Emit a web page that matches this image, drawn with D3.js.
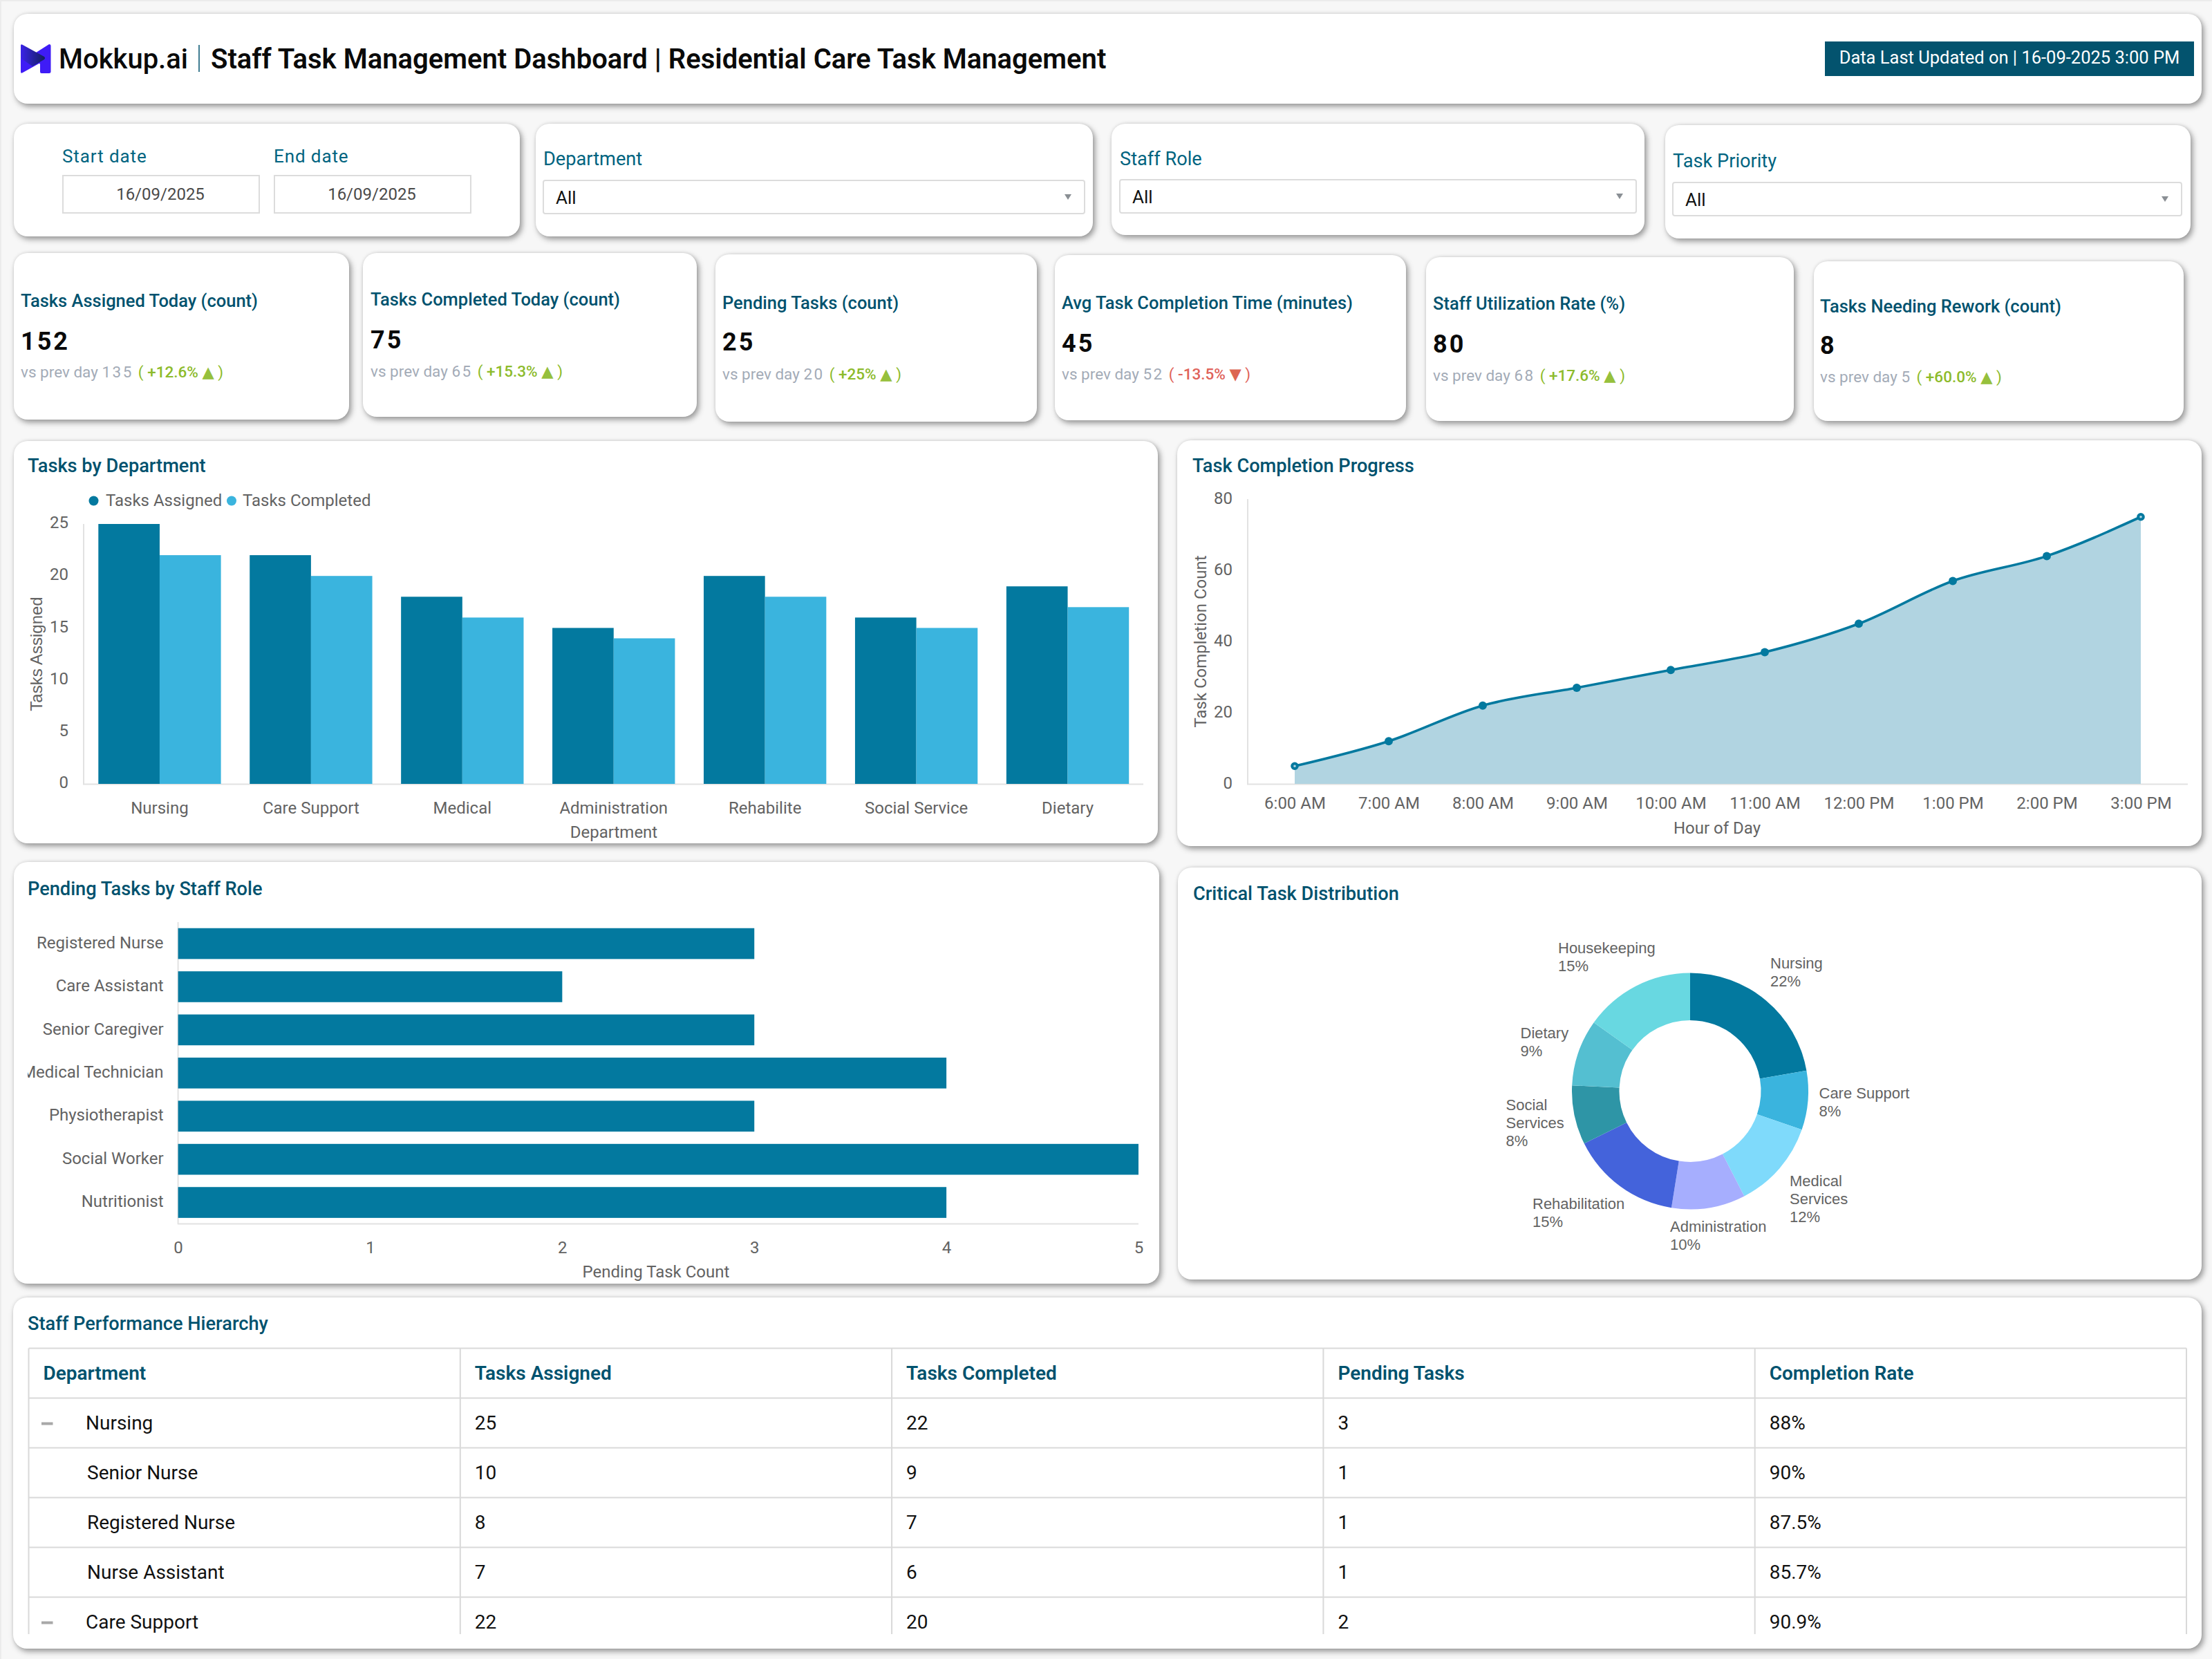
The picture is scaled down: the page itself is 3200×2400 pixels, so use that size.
<!DOCTYPE html>
<html><head><meta charset="utf-8">
<script src="https://cdnjs.cloudflare.com/ajax/libs/d3/7.8.5/d3.min.js"></script>
<style>
html,body{margin:0;padding:0;background:#f7f7f7;}
svg{display:block;font-family:Roboto,sans-serif;}
.card{fill:#fff;filter:drop-shadow(3px 4px 4px rgba(0,0,0,.38)) drop-shadow(0 -1px 2px rgba(0,0,0,.08));}
.tick text{font-family:Roboto,sans-serif;font-size:24px;fill:#636363;}
</style></head><body>
<div id="chart"></div>
<script>
// ---------- data ----------
const departments = ["Nursing","Care Support","Medical","Administration","Rehabilite","Social Service","Dietary"];
const tasksAssigned = [25,22,18,15,20,16,19];
const tasksCompleted = [22,20,16,14,18,15,17];
const hours = ["6:00 AM","7:00 AM","8:00 AM","9:00 AM","10:00 AM","11:00 AM","12:00 PM","1:00 PM","2:00 PM","3:00 PM"];
const completionCount = [5,12,22,27,32,37,45,57,64,75];
const staffRoles = ["Registered Nurse","Care Assistant","Senior Caregiver","Medical Technician","Physiotherapist","Social Worker","Nutritionist"];
const pendingByRole = [3,2,3,4,3,5,4];
const criticalNames = ["Nursing","Care Support","Medical Services","Administration","Rehabilitation","Social Services","Dietary","Housekeeping"];
const criticalShare = [22,8,12,10,15,8,9,15];
const kpiTitles = ["Tasks Assigned Today (count)","Tasks Completed Today (count)","Pending Tasks (count)","Avg Task Completion Time (minutes)","Staff Utilization Rate (%)","Tasks Needing Rework (count)"];
const kpiValues = ["152","75","25","45","80","8"];
const kpiPrev = ["135","65","20","52","68","5"];
const kpiDelta = ["+12.6%","+15.3%","+25%","-13.5%","+17.6%","+60.0%"];
const tableHeaders = ["Department","Tasks Assigned","Tasks Completed","Pending Tasks","Completion Rate"];
const tableNames = ["Nursing","Senior Nurse","Registered Nurse","Nurse Assistant","Care Support"];
const tableParent = [true,false,false,false,true];
const tableAssigned = [25,10,8,7,22];
const tableCompleted = [22,9,7,6,20];
const tablePending = [3,1,1,1,2];
const tableRate = ["88%","90%","87.5%","85.7%","90.9%"];

// ---------- setup ----------
const TEAL="#00526e", BAR="#03799F", BAR2="#3AB4DE", AXIS="#e2e2e2", GREY="#636363";
const svg=d3.select("#chart").append("svg").attr("width",3200).attr("height",2400).attr("viewBox","0 0 3200 2400");
svg.append("rect").attr("width",3200).attr("height",2400).attr("fill","#f7f7f7");
svg.append("rect").attr("width",3200).attr("height",2).attr("fill","#ececec");
svg.append("rect").attr("width",2).attr("height",2400).attr("fill","#ececec");

function card(x0,y0,x1,y1){svg.append("rect").attr("class","card").attr("x",x0).attr("y",y0).attr("width",x1-x0).attr("height",y1-y0).attr("rx",20);}
function txt(x,y,s,o={}){
  const t=(o.g||svg).append("text").attr("x",x).attr("y",y).attr("dy",".35em").text(s)
    .attr("font-size",o.size||24).attr("fill",o.fill||GREY).attr("font-weight",o.weight||400)
    .attr("font-family",o.family||"Roboto, sans-serif").attr("text-anchor",o.anchor||"start");
  if(o.spacing)t.attr("letter-spacing",o.spacing);
  return t;
}
function domainLine(x0,y0,x1,y1){svg.append("line").attr("x1",x0).attr("y1",y0).attr("x2",x1).attr("y2",y1).attr("stroke",AXIS).attr("stroke-width",2);}
function vtitle(x,y,s,family){svg.append("text").attr("transform",`translate(${x},${y}) rotate(-90)`).attr("dy",".35em").attr("text-anchor","middle").attr("font-size",24).attr("fill",GREY).attr("font-family",family||"Roboto, sans-serif").text(s);}
const titleOpts={size:27.2,weight:500,fill:TEAL};

// ---------- header ----------
card(20,20,3185,150);
const defs=svg.append("defs");
const lg=defs.append("linearGradient").attr("id","logoGrad").attr("x1","0").attr("x2","1").attr("y1","0").attr("y2","0");
lg.append("stop").attr("offset","0").attr("stop-color","#3a22e8");
lg.append("stop").attr("offset","1").attr("stop-color","#13205c");
svg.append("path").attr("d","M73.5 66Q73.5 64 71 64L49 78 58 93V104Q58 106 60 106H71Q73.5 106 73.5 104ZM30 84V104Q30 107 33 105L58 91 46 84Z").attr("fill","#3f1cf6");
svg.append("path").attr("d","M30 66Q30 63 33 65L64 82Q66 84 64 86L47 96 30 84Z").attr("fill","url(#logoGrad)");
txt(85,85,"Mokkup.ai",{size:40,weight:500,fill:"#0a0a0a"});
svg.append("line").attr("x1",288).attr("x2",288).attr("y1",65).attr("y2",104).attr("stroke",TEAL).attr("stroke-width",1.5);
txt(305,85,"Staff Task Management Dashboard | Residential Care Task Management",{size:40,weight:600,fill:"#0a0a0a"});
svg.append("rect").attr("x",2640).attr("y",60).attr("width",534).attr("height",50).attr("fill","#03536e");
txt(2907,83,"Data Last Updated on | 16-09-2025 3:00 PM",{size:25.5,fill:"#fff",anchor:"middle"});

// ---------- filters ----------
card(20,179,752,342); card(775,179,1581,342); card(1608,179,2379,340); card(2409,181,3169,345);
[[90,"Start date"],[396,"End date"]].forEach(([x,s])=>{
  txt(x,226,s,{size:26,fill:"#006480",spacing:0.9});
  svg.append("rect").attr("x",x+1).attr("y",254).attr("width",284).attr("height",54).attr("fill","#fff").attr("stroke","#dcdcdc").attr("stroke-width",2);
  txt(x+142,281,"16/09/2025",{size:24,fill:"#4a4a4a",anchor:"middle"});
});
[["Department",786,1569,229,261,"All"],["Staff Role",1620,2367,229,260,"All"],["Task Priority",2420,3156,232,264,"All"]].forEach(([s,x0,x1,ly,by,v])=>{
  txt(x0,ly,s,{size:27.2,fill:"#006480"});
  svg.append("rect").attr("x",x0).attr("y",by).attr("width",x1-x0).attr("height",48).attr("rx",3).attr("fill","#fff").attr("stroke","#dcdcdc").attr("stroke-width",2);
  txt(x0+18,by+25,v,{size:26,fill:"#111"});
  const ax=x1-24, ay=by+24;
  svg.append("path").attr("d",`M${ax-5} ${ay-4}H${ax+5}L${ax} ${ay+4}Z`).attr("fill","#8a8f94");
});

// ---------- KPI cards ----------
const kpiLayout=[
 {c:[20,366,505,607],x:30,t:435,v:493,s:538},
 {c:[525,366,1008,603],x:536,t:433,v:491,s:537},
 {c:[1035,368,1500,610],x:1045,t:438,v:494,s:541},
 {c:[1526,369,2034,608],x:1536,t:438,v:496,s:541},
 {c:[2063,372,2595,609],x:2073,t:439,v:497,s:543},
 {c:[2624,378,3159,609],x:2633,t:443,v:499,s:545}];
kpiTitles.forEach((title,i)=>{
  const L=kpiLayout[i]; card(...L.c);
  txt(L.x,L.t,title,{size:25.5,weight:500,fill:TEAL});
  txt(L.x,L.v,kpiValues[i],{size:36,weight:700,fill:"#0a0a0a",spacing:3});
  const down=kpiDelta[i][0]==="-", col=down?"#e0635a":"#8dbb2c";
  const t=txt(L.x,L.s,"",{size:22.5,fill:"#a3abb7"});
  t.append("tspan").text("vs prev day ");
  t.append("tspan").attr("letter-spacing",2.5).text(kpiPrev[i]);
  t.append("tspan").attr("fill",col).attr("dx",7).text("( ");
  t.append("tspan").attr("fill",col).attr("font-weight",500).text(kpiDelta[i]+" ");
  t.append("tspan").attr("fill",down?"#dd6652":"#96c03c").attr("font-family","DejaVu Sans").text(down?"▼":"▲");
  t.append("tspan").attr("fill",col).text(" )");
});

// ---------- Tasks by Department ----------
card(20,638,1675,1220);
txt(40,673,"Tasks by Department",titleOpts);
svg.append("circle").attr("cx",135.5).attr("cy",724.5).attr("r",7).attr("fill",BAR);
txt(153,724,"Tasks Assigned",{});
svg.append("circle").attr("cx",335).attr("cy",724.5).attr("r",7).attr("fill",BAR2);
txt(351,724,"Tasks Completed",{});
const x1=d3.scaleBand().domain(departments).range([121.5,1654]).paddingInner(.19).paddingOuter(.095);
const xSub=d3.scaleBand().domain([0,1]).range([0,x1.bandwidth()]);
const y1=d3.scaleLinear().domain([0,25]).range([1134,758]);
domainLine(121,758,121,1135); domainLine(120,1134.5,1654,1134.5);
[tasksAssigned,tasksCompleted].forEach((vals,k)=>{
  svg.append("g").selectAll("rect").data(vals).join("rect")
    .attr("x",(d,i)=>x1(departments[i])+xSub(k)).attr("width",xSub.bandwidth())
    .attr("y",d=>y1(d)).attr("height",d=>y1(0)-y1(d)).attr("fill",k?BAR2:BAR);
});
let a=svg.append("g").attr("transform","translate(0,1134)").call(d3.axisBottom(x1).tickSize(0).tickPadding(26)); a.select(".domain").remove();
a=svg.append("g").attr("transform","translate(121,-2)").call(d3.axisLeft(y1).ticks(5).tickSize(0).tickPadding(22)); a.select(".domain").remove();
vtitle(53,946,"Tasks Assigned","Liberation Sans");
txt(888,1204,"Department",{anchor:"middle"});

// ---------- Task Completion Progress ----------
card(1703,637,3185,1224);
txt(1725,673,"Task Completion Progress",titleOpts);
const x2=d3.scalePoint().domain(hours).range([1805,3165]).padding(.5);
const y2=d3.scaleLinear().domain([0,80]).range([1134,722]);
domainLine(1805,722,1805,1135); domainLine(1804,1134.5,3165,1134.5);
const pts=hours.map((h,i)=>[x2(h),completionCount[i]]);
const isEnd=i=>i===0||i===pts.length-1;
svg.append("path").datum(pts).attr("fill","#b1d4e1")
  .attr("d",d3.area().x(d=>d[0]).y0(y2(0)).y1(d=>y2(d[1])).curve(d3.curveMonotoneX));
svg.append("path").datum(pts).attr("fill","none").attr("stroke",BAR).attr("stroke-width",3.6)
  .attr("d",d3.line().x(d=>d[0]).y(d=>y2(d[1])).curve(d3.curveMonotoneX));
svg.append("g").selectAll("circle").data(pts).join("circle")
  .attr("cx",d=>d[0]).attr("cy",d=>y2(d[1])).attr("r",(d,i)=>isEnd(i)?3.8:6)
  .attr("fill",(d,i)=>isEnd(i)?"#b1d4e1":BAR).attr("stroke",BAR).attr("stroke-width",(d,i)=>isEnd(i)?4:0);
a=svg.append("g").attr("transform","translate(0,1134)").call(d3.axisBottom(x2).tickSize(0).tickPadding(19)); a.select(".domain").remove();
a=svg.append("g").attr("transform","translate(1805,-1)").call(d3.axisLeft(y2).ticks(4).tickSize(0).tickPadding(22)); a.select(".domain").remove();
vtitle(1737,928,"Task Completion Count");
txt(2484,1198,"Hour of Day",{anchor:"middle"});

// ---------- Pending by role ----------
card(20,1247,1677,1857);
txt(40,1285,"Pending Tasks by Staff Role",titleOpts);
const x3=d3.scaleLinear().domain([0,5]).range([257.6,1647]);
const y3=d3.scaleBand().domain(staffRoles).range([1334,1770.6]).paddingInner(.285).paddingOuter(.14);
domainLine(257.6,1334,257.6,1771); domainLine(257,1770.6,1647,1770.6);
svg.append("g").selectAll("rect").data(pendingByRole).join("rect")
  .attr("x",x3(0)).attr("y",(d,i)=>y3(staffRoles[i])).attr("height",y3.bandwidth())
  .attr("width",d=>x3(d)-x3(0)).attr("fill",BAR);
defs.append("clipPath").attr("id","roleClip").append("rect").attr("x",40).attr("y",1320).attr("width",210).attr("height",460);
const yAxisG=svg.append("g").attr("clip-path","url(#roleClip)").append("g").attr("transform","translate(257.6,-1)").call(d3.axisLeft(y3).tickSize(0).tickPadding(21));
yAxisG.select(".domain").remove();
a=svg.append("g").attr("transform","translate(0,1770.6)").call(d3.axisBottom(x3).ticks(5).tickFormat(d3.format("d")).tickSize(0).tickPadding(25)); a.select(".domain").remove();
txt(949,1840,"Pending Task Count",{anchor:"middle"});

// ---------- Donut ----------
card(1704,1255,3185,1851);
txt(1726,1292,"Critical Task Distribution",titleOpts);
const donutColors=["#03799F","#3AB4DE","#7FDAFB","#A6AEFE","#4463DB","#2E95A6","#54BFD1","#68D8E1"];
const CX=2445, CY=1578.4;
const pie=d3.pie().sort(null).value(d=>d);
const arc=d3.arc().innerRadius(102.5).outerRadius(171);
const donut=svg.append("g").attr("transform",`translate(${CX},${CY})`);
donut.selectAll("path").data(pie(criticalShare)).join("path").attr("d",arc).attr("fill",(d,i)=>donutColors[i]);
// label anchor offsets from the donut centre (first-line centre)
const labelOffsets=[[116,-185],[186.5,3],[144,130],[-29,196],[-228,163],[-266.5,20],[-245.5,-84],[-191,-207]];
const labelLayer=svg.append("g");
criticalNames.forEach((n,i)=>{
  const words=n.includes(" ")&&n!=="Care Support"?n.split(" "):[n];
  [...words,criticalShare[i]+"%"].forEach((s,j)=>txt(CX+labelOffsets[i][0],CY+labelOffsets[i][1]+j*26,s,{size:22,family:"Liberation Sans",g:labelLayer,fill:"#636363"}));
});

// ---------- Table ----------
card(19,1877,3185,2385);
txt(40,1914,"Staff Performance Hierarchy",titleOpts);
const colX=d3.scalePoint().domain(d3.range(6)).range([41.5,3163]);
const rowY=d3.scalePoint().domain(d3.range(7)).range([1950.5,2382.5]);
const tableClip=defs.append("clipPath").attr("id","tblClip");
tableClip.append("rect").attr("x",30).attr("y",1940).attr("width",3145).attr("height",424);
const tg=svg.append("g").attr("clip-path","url(#tblClip)");
d3.range(6).forEach(c=>tg.append("line").attr("x1",colX(c)).attr("x2",colX(c)).attr("y1",rowY(0)).attr("y2",2364).attr("stroke","#d9d9d9").attr("stroke-width",2));
d3.range(6).forEach(r=>tg.append("line").attr("x1",colX(0)).attr("x2",colX(5)).attr("y1",rowY(r)).attr("y2",rowY(r)).attr("stroke","#d9d9d9").attr("stroke-width",2));
tableHeaders.forEach((h,c)=>txt(colX(c)+21,rowY(0)+36,h,{g:tg,size:28,weight:600,fill:TEAL}));
const tableCols=[tableAssigned,tableCompleted,tablePending,tableRate];
tableNames.forEach((n,r)=>{
  const cy=rowY(r+1)+36;
  if(tableParent[r]) tg.append("rect").attr("x",60).attr("y",cy-1).attr("width",16.5).attr("height",4).attr("fill","#a8a8a8");
  txt(tableParent[r]?124:126,cy,n,{g:tg,size:28,fill:"#111"});
  tableCols.forEach((col,c)=>txt(colX(c+1)+21,cy,col[r],{g:tg,size:28,fill:"#111"}));
});
</script>
</body></html>
